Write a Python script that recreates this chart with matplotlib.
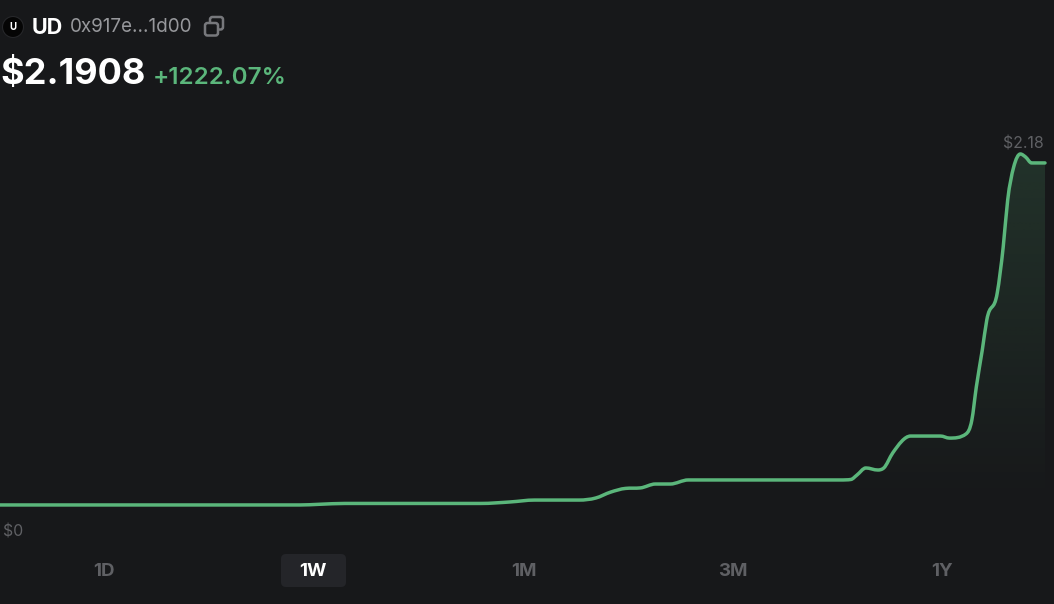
import numpy as np
import matplotlib
matplotlib.use("Agg")
import matplotlib.pyplot as plt
from matplotlib.path import Path
from matplotlib.patches import PathPatch, FancyBboxPatch, Circle

W, H = 1054, 604
BG = "#17181A"; GREEN = "#5BB67B"; GREY = "#5F6064"; LIGHT = "#97989C"
plt.rcParams["font.family"] = ["Inter", "DejaVu Sans"]

# --- data ---
days = [0.00, 2.01, 2.14, 2.31, 3.22, 3.42, 3.58, 3.88, 3.99, 4.09, 4.19, 4.29, 4.39,
        4.49, 4.61, 4.69, 5.63, 5.70, 5.74, 5.80, 5.88, 5.92, 5.98, 6.10, 6.30, 6.36,
        6.47, 6.51, 6.54, 6.58, 6.61, 6.68, 6.72, 6.75, 6.79, 6.835, 6.87, 6.91, 7.00]
price = [0.166, 0.166, 0.170, 0.175, 0.175, 0.184, 0.195, 0.195, 0.207, 0.242, 0.264,
         0.267, 0.290, 0.290, 0.314, 0.314, 0.314, 0.317, 0.343, 0.385, 0.373, 0.385,
         0.474, 0.574, 0.574, 0.562, 0.586, 0.669, 0.865, 1.084, 1.261, 1.421, 1.693,
         1.971, 2.166, 2.244, 2.226, 2.191, 2.191]
periods = ["1D", "1W", "1M", "3M", "1Y"]
period_centres = [104, 313, 524, 733, 942]
active_period = "1W"
symbol = "UD"; address = "0x917e...1d00"; last_price = "$2.1908"; change = "+1222.07%"
y_labels = ["$2.18", "$0"]

# --- figure: axes span the canvas; 168.9 px per dollar, $0 at pixel row 533 ---
fig = plt.figure(figsize=(W / 100, H / 100), dpi=100, facecolor=BG)
ax = fig.add_axes([0, 0, 1, 1], facecolor=BG)
ax.set_xlim(0, 7 * W / 1045)
ax.set_ylim(-(H - 533) / 168.9, 533 / 168.9)
ax.axis("off")

# overlay in pixel coordinates (y down) for the page furniture
ui = fig.add_axes([0, 0, 1, 1], facecolor="none", zorder=5)
ui.set_xlim(0, W); ui.set_ylim(H, 0); ui.axis("off")


def smooth_path(x, y):
    """Smooth Bezier curve through the points (limited Catmull-Rom tangents)."""
    x = np.asarray(x, float); y = np.asarray(y, float)
    h = np.diff(x); s = np.diff(y) / h
    t = np.zeros_like(x)
    for i in range(1, len(x) - 1):
        if s[i - 1] * s[i] > 0:
            p = (s[i - 1] * h[i] + s[i] * h[i - 1]) / (h[i - 1] + h[i])
            t[i] = np.sign(p) * min(abs(p), 3 * abs(s[i - 1]), 3 * abs(s[i]))
    verts = [(x[0], y[0])]; codes = [Path.MOVETO]
    for i in range(len(h)):
        verts += [(x[i] + h[i] / 3, y[i] + t[i] * h[i] / 3),
                  (x[i + 1] - h[i] / 3, y[i + 1] - t[i + 1] * h[i] / 3),
                  (x[i + 1], y[i + 1])]
        codes += [Path.CURVE4] * 3
    return verts, codes


verts, codes = smooth_path(days, price)

# gradient area under the curve
floor = price[0]
area = Path(verts + [(days[-1], floor), (days[0], floor), (days[0], floor)],
            codes + [Path.LINETO, Path.LINETO, Path.CLOSEPOLY])
clip = PathPatch(area, transform=ax.transData, fc="none", ec="none")
ax.add_patch(clip)
grad = np.zeros((256, 2, 4))
grad[..., :3] = matplotlib.colors.to_rgb(GREEN)
grad[..., 3] = np.linspace(0.17, 0.0, 256)[:, None]
im = ax.imshow(grad, extent=[days[0], days[-1], floor, max(price)], origin="upper",
               aspect="auto", zorder=1, interpolation="bilinear")
im.set_clip_path(clip)
ax.set_xlim(0, 7 * W / 1045)
ax.set_ylim(-(H - 533) / 168.9, 533 / 168.9)

# price line
ax.add_patch(PathPatch(Path(verts, codes), fc="none", ec=GREEN, lw=2.5,
                       capstyle="round", joinstyle="round", zorder=2))

# header
ui.add_patch(Circle((13, 27), 10.5, fc="#050505", ec="#26272a", lw=0.8))
ui.text(13, 27.5, "U", color="white", fontsize=7, fontweight="bold", ha="center", va="center")
ui.text(32, 28, symbol, color="white", fontsize=15.5, fontweight="bold", va="center")
ui.text(70, 27.5, address, color=LIGHT, fontsize=13.6, va="center")
ui.add_patch(FancyBboxPatch((210, 17), 13, 12.5, boxstyle="round,pad=0,rounding_size=2.5",
                            fc="none", ec="#77787C", lw=1.8))
ui.add_patch(FancyBboxPatch((205, 23), 13, 12.5, boxstyle="round,pad=0,rounding_size=2.5",
                            fc=BG, ec="#77787C", lw=1.8))
ui.text(0, 74.5, last_price, color="white", fontsize=26, fontweight="bold", va="center")
ui.text(153, 78, change, color=GREEN, fontsize=17.4, fontweight="semibold", va="center")

# value labels
ui.text(1044, 143.5, y_labels[0], color=GREY, fontsize=11.4, ha="right", va="center")
ui.text(3, 532, y_labels[1], color=GREY, fontsize=11.4, ha="left", va="center")

# period selector
for label, cx in zip(periods, period_centres):
    active = label == active_period
    if active:
        ui.add_patch(FancyBboxPatch((281, 554), 65, 33, boxstyle="round,pad=0,rounding_size=5",
                                    fc="#242529", ec="none"))
    ui.text(cx, 572, label, color="white" if active else GREY, fontsize=13.5,
            fontweight="bold", ha="center", va="center")

fig.savefig("out.png", dpi=100, facecolor=BG)
